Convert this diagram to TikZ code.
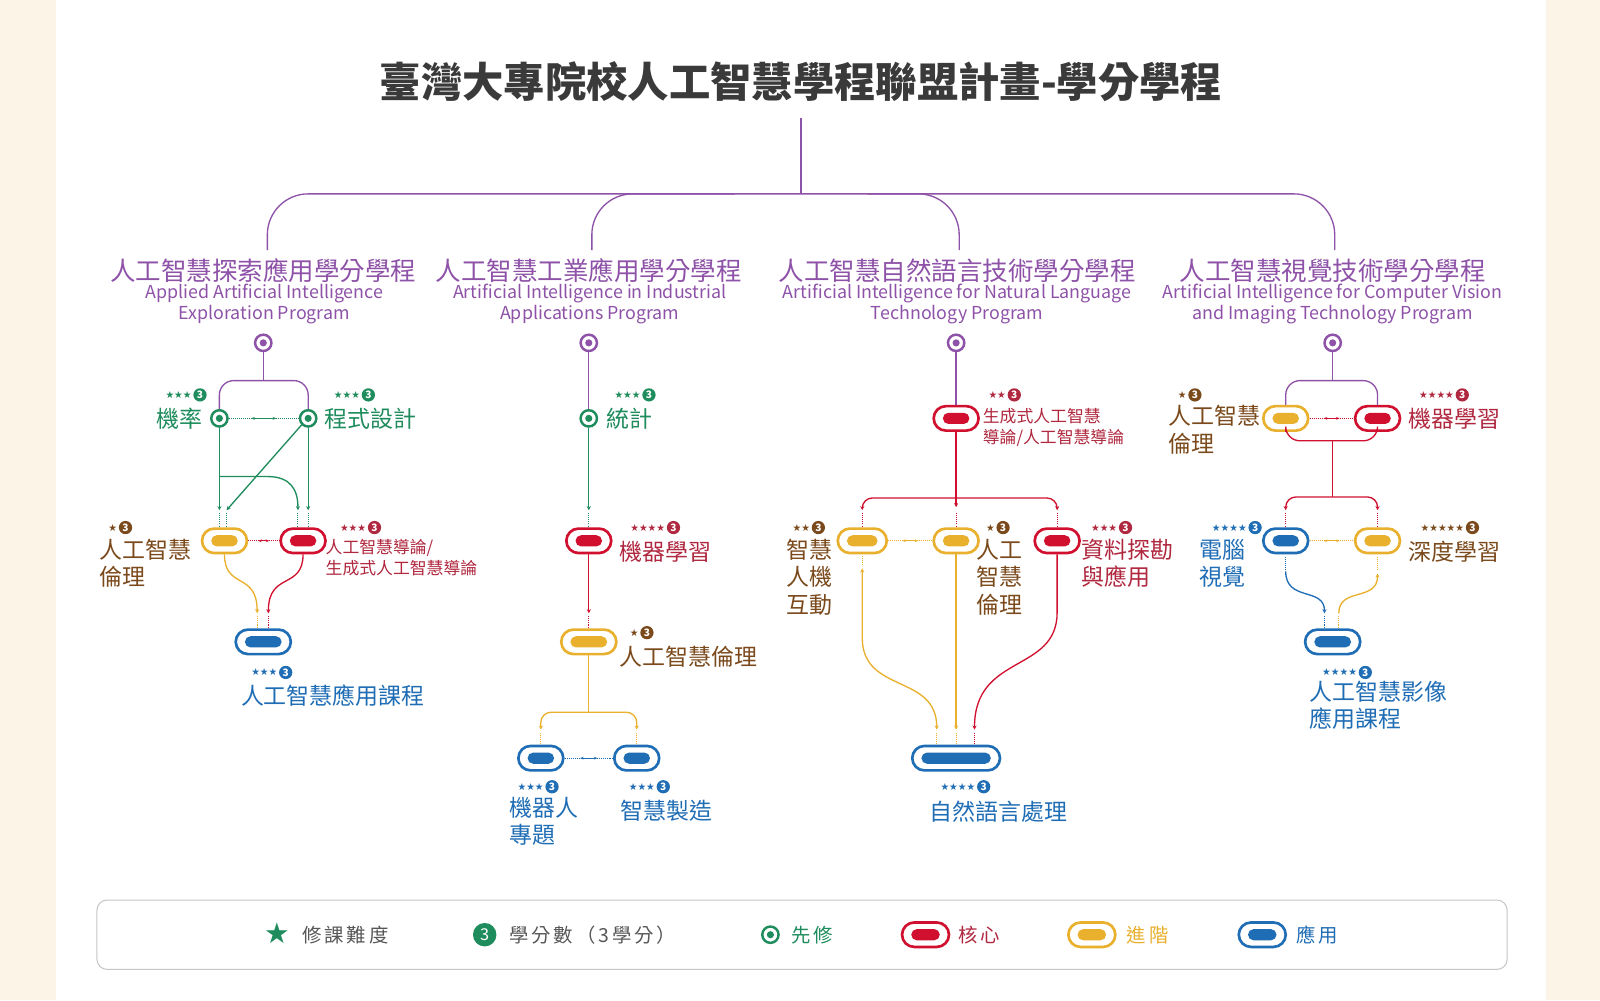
\documentclass[tikz,border=0pt]{standalone}
\usepackage{fontspec}
\setmainfont{Noto Sans CJK TC}
\newfontfamily\dv{DejaVu Sans}
\usetikzlibrary{shapes.misc,arrows.meta,calc}
\definecolor{cream}{HTML}{FDF4E8}
\definecolor{purp}{HTML}{8E52A8}
\definecolor{grn}{HTML}{1E8C5C}
\definecolor{brn}{HTML}{7B4A1C}
\definecolor{redt}{HTML}{B0283F}
\definecolor{redf}{HTML}{D0102E}
\definecolor{yel}{HTML}{E9B02E}
\definecolor{blu}{HTML}{1F6DB5}
\definecolor{ttl}{HTML}{3A3A3A}
\newcommand\pill[5]{%
  \node[draw=#4,line width=2.6pt,fill=white,rounded rectangle,minimum width=#5,minimum height=24pt,inner sep=0pt] (#1) at (#2,#3) {};
  \node[fill=#4,rounded rectangle,minimum width=#5-18pt,minimum height=11pt,inner sep=0pt] at (#1) {};}
\newcommand\pre[4]{%
  \node[draw=#4,line width=2.4pt,fill=white,circle,minimum size=16pt,inner sep=0pt] (#1) at (#2,#3) {};
  \node[fill=#4,circle,minimum size=7pt,inner sep=0pt] at (#1) {};}
\newcommand\rate[4]{%
  \node[anchor=east,text=#4,font=\dv\fontsize{9.5}{9.5}\selectfont,inner sep=1pt] at (#1-7,#2) {#3};
  \node[circle,fill=#4,text=white,inner sep=0pt,minimum size=13pt,font=\fontsize{10}{10}\selectfont\bfseries] at (#1,#2) {3};}
\newcommand\link[3]{%
  \draw[#3,densely dotted,line width=1pt] (#1.east)--(#2.west);
  \draw[#3,line width=1.2pt,{Stealth[length=3.5pt]}-{Stealth[length=3.5pt]}] ($(#1.east)!0.32!(#2.west)$)--($(#1.east)!0.68!(#2.west)$);}
\newcommand\dotv[4]{\draw[#1,densely dotted,line width=1pt] (#2,#3)--(#2,#4);}
\tikzset{
  ln/.style={line width=1.3pt},
  ar/.style={line width=1.3pt,-{Stealth[length=4pt,width=4pt]}},
  lbl/.style={font=\fontsize{22.5}{27}\selectfont,inner sep=0pt,align=left},
  slbl/.style={font=\fontsize{16.5}{21}\selectfont,inner sep=0pt,align=left},
  ptitle/.style={text=purp,font=\fontsize{25}{26}\selectfont,inner sep=0pt},
  pen/.style={text=purp,font=\fontsize{17.5}{20}\selectfont,inner sep=0pt,align=center},
  leg/.style={font=\fontsize{19}{20}\selectfont\addfontfeature{LetterSpace=15},anchor=west,inner sep=0pt}
}
\begin{document}
\begin{tikzpicture}[x=1pt,y=-1pt]
\fill[cream] (0,0) rectangle (1568,980);
\fill[white] (55,0) rectangle (1515,980);
\useasboundingbox (0,0) rectangle (1568,980);
\node[font=\fontsize{40.5}{42}\selectfont\bfseries,text=ttl] (title) at (785,80) {臺灣大專院校人工智慧學程聯盟計畫-學分學程};
\coordinate (top) at (785,116);
\draw[purp,ln] (top) -- (785,190);
\draw[purp,ln,rounded corners=40] (262,245) |- (785,190) -| (1308,245);
\draw[purp,ln,rounded corners=40] (580,245) |- (720,190);
\draw[purp,ln,rounded corners=40] (940,245) |- (850,190);
% program titles
\node[ptitle] at (258,265) {人工智慧探索應用學分學程};
\node[pen] at (259,298) {Applied Artificial Intelligence\\Exploration Program};
\node[ptitle] at (577,265) {人工智慧工業應用學分學程};
\node[pen] at (578,298) {Artificial Intelligence in Industrial\\Applications Program};
\node[ptitle] at (938,265) {人工智慧自然語言技術學分學程};
\node[pen] at (938,298) {Artificial Intelligence for Natural Language\\Technology Program};
\node[ptitle] at (1306,265) {人工智慧視覺技術學分學程};
\node[pen] at (1306,298) {Artificial Intelligence for Computer Vision\\and Imaging Technology Program};
% ===== column 1
\pre{r1}{258}{336}{purp}
\pre{m1}{215}{410}{grn}
\pre{m2}{302}{410}{grn}
\draw[purp,ln] (r1.south) -- (258,373);
\draw[purp,ln,rounded corners=14] (m1.north) |- (258,373) -| (m2.north);
\link{m1}{m2}{grn}
\rate{196}{387}{★★★}{grn}\rate{361}{387}{★★★}{grn}
\node[lbl,text=grn,anchor=east] at (199,410) {機率};
\node[lbl,text=grn,anchor=west] at (318,410) {程式設計};
\draw[grn,ar] (m1.south) -- (215,500);
\draw[grn,ar] (215,467) -- (262,467) .. controls (285,467) and (292,480) .. (292,500);
\draw[grn,ar] (m2.south) -- (302,500);
\draw[grn,ar] (m2.south west) -- (222,500);
\foreach \x in {215,222,292,302} {\dotv{grn}{\x}{503}{516}}
\pill{e1}{220}{530}{yel}{44pt}
\pill{c1}{297}{530}{redf}{44pt}
\link{e1}{c1}{redf}
\rate{123}{517}{★}{brn}\rate{367}{517}{★★★}{redt}
\node[lbl,text=brn,anchor=north west] at (97,528) {人工智慧\\倫理};
\node[slbl,text=redt,anchor=north west] at (319,528) {人工智慧導論/\\生成式人工智慧導論};
\draw[yel,ar] (e1.south) .. controls (220,578) and (252,560) .. (252,601);
\draw[redf,ar] (c1.south) .. controls (297,578) and (263,560) .. (263,601);
\dotv{yel}{252}{604}{616}\dotv{redf}{263}{604}{616}
\pill{a1}{258}{629}{blu}{54pt}
\rate{280}{659}{★★★}{blu}
\node[lbl,text=blu,anchor=west] at (236,682) {人工智慧應用課程};
% ===== column 2
\pre{r2}{577}{336}{purp}
\pre{s2}{577}{410}{grn}
\draw[purp,ln] (r2.south) -- (s2.north);
\rate{636}{387}{★★★}{grn}
\node[lbl,text=grn,anchor=west] at (594,410) {統計};
\draw[grn,ar] (s2.south) -- (577,500);
\dotv{grn}{577}{503}{516}
\pill{c2}{577}{530}{redf}{44pt}
\rate{660}{517}{★★★★}{redt}
\node[lbl,text=redt,anchor=west] at (607,541) {機器學習};
\draw[redf,ar] (c2.south) -- (577,601);
\dotv{redf}{577}{604}{616}
\pill{y2}{577}{629}{yel}{54pt}
\rate{634}{620}{★}{brn}
\node[lbl,text=brn,anchor=west] at (607,644) {人工智慧倫理};
\draw[yel,ln] (y2.south) -- (577,698);
\draw[yel,ar,rounded corners=10] (577,698) -| (530,715);
\draw[yel,ar,rounded corners=10] (577,698) -| (624,715);
\dotv{yel}{530}{718}{730}\dotv{yel}{624}{718}{730}
\pill{b2a}{530}{743}{blu}{44pt}
\pill{b2b}{624}{743}{blu}{44pt}
\link{b2a}{b2b}{blu}
\rate{541}{771}{★★★}{blu}\rate{650}{771}{★★★}{blu}
\node[lbl,text=blu,anchor=north west] at (499,781) {機器人\\專題};
\node[lbl,text=blu,anchor=west] at (608,795) {智慧製造};
% ===== column 3
\pre{r3}{937}{336}{purp}
\pill{g3}{937}{410}{redf}{44pt}
\draw[purp,ln] (r3.south) -- (g3.north);
\rate{994}{387}{★★}{redt}
\node[slbl,text=redt,anchor=north west] at (963,400) {生成式人工智慧\\導論/人工智慧導論};
\draw[redf,ar] (g3.south) -- (937,497);
\draw[redf,ar,rounded corners=10] (937,488) -| (845,500);
\draw[redf,ar,rounded corners=10] (937,488) -| (1036,500);
\foreach \x in {845,937,1036} {\dotv{redf}{\x}{503}{516}}
\pill{h3}{845}{530}{yel}{48pt}
\pill{e3}{937}{530}{yel}{44pt}
\pill{d3}{1036}{530}{redf}{44pt}
\link{h3}{e3}{yel}
\rate{802}{517}{★★}{brn}\rate{983}{517}{★}{brn}\rate{1103}{517}{★★★}{redt}
\node[lbl,text=brn,anchor=north west] at (771,528) {智慧\\人機\\互動};
\node[lbl,text=brn,anchor=north west] at (957,528) {人工\\智慧\\倫理};
\node[lbl,text=redt,anchor=north west] at (1060,528) {資料探勘\\與應用};
\dotv{yel}{845}{545}{555}
\draw[yel,line width=1.3pt,{Stealth[length=4pt,width=4pt]}-{Stealth[length=4pt,width=4pt]}] (845,557) -- (845,625) .. controls (845,680) and (918,660) .. (918,715);
\draw[yel,ar] (e3.south) -- (937,715);
\draw[redf,ar] (d3.south) -- (1036,600) .. controls (1036,660) and (955,640) .. (955,715);
\dotv{yel}{918}{718}{730}\dotv{yel}{937}{718}{730}\dotv{redf}{955}{718}{730}
\pill{n3}{937}{743}{blu}{86pt}
\rate{964}{771}{★★★★}{blu}
\node[lbl,text=blu,anchor=west] at (911,795) {自然語言處理};
% ===== column 4
\pre{r4}{1306}{336}{purp}
\pill{y4}{1260}{410}{yel}{44pt}
\pill{c4}{1350}{410}{redf}{44pt}
\draw[purp,ln] (r4.south) -- (1306,373);
\draw[purp,ln,rounded corners=14] (y4.north) |- (1306,373) -| (c4.north);
\draw[redf,ln,rounded corners=14] (y4.south) |- (1306,432) -| (c4.south);
\link{y4}{c4}{redf}
\rate{1171}{387}{★}{brn}\rate{1433}{387}{★★★★}{redt}
\node[lbl,text=brn,anchor=north west] at (1145,397) {人工智慧\\倫理};
\node[lbl,text=redt,anchor=west] at (1380,410) {機器學習};
\draw[redf,ln] (1306,432) -- (1306,487);
\draw[redf,ar,rounded corners=10] (1306,487) -| (1260,500);
\draw[redf,ar,rounded corners=10] (1306,487) -| (1350,500);
\dotv{redf}{1260}{503}{516}\dotv{redf}{1350}{503}{516}
\pill{b4}{1260}{530}{blu}{44pt}
\pill{d4}{1350}{530}{yel}{44pt}
\link{b4}{d4}{yel}
\rate{1230}{517}{★★★★}{blu}\rate{1443}{517}{★★★★★}{brn}
\node[lbl,text=blu,anchor=north west] at (1175,528) {電腦\\視覺};
\node[lbl,text=brn,anchor=west] at (1380,541) {深度學習};
\dotv{blu}{1260}{546}{560}\dotv{yel}{1350}{546}{560}
\draw[blu,ar] (1260,560) .. controls (1260,590) and (1298,575) .. (1298,601);
\draw[yel,ar] (1312,601) .. controls (1312,575) and (1350,590) .. (1350,562);
\dotv{blu}{1298}{604}{616}\dotv{yel}{1312}{604}{616}
\pill{a4}{1306}{629}{blu}{54pt}
\rate{1338}{659}{★★★★}{blu}
\node[lbl,text=blu,anchor=north west] at (1283,667) {人工智慧影像\\應用課程};
% ===== legend
\draw[gray!45,line width=1pt,rounded corners=10] (95,882) rectangle (1477,950);
\node[text=grn,font=\dv\fontsize{28}{28}\selectfont,inner sep=0pt] (ls) at (272,915) {★};
\node[leg,text=ttl!85] at (296,916) {修課難度};
\node[circle,fill=grn,text=white,inner sep=0pt,minimum size=23pt,font=\fontsize{16}{16}\selectfont] (lc) at (475,916) {3};
\node[leg,text=ttl!85] at (499,916) {學分數（3學分）};
\pre{lp}{755}{916}{grn}
\node[leg,text=grn] at (775,916) {先修};
\pill{lr}{907}{916}{redf}{46pt}
\node[leg,text=redt] at (939,916) {核心};
\pill{ly}{1070}{916}{yel}{46pt}
\node[leg,text=yel] at (1104,916) {進階};
\pill{lb}{1237}{916}{blu}{46pt}
\node[leg,text=blu] at (1270,916) {應用};
\end{tikzpicture}
\end{document}
